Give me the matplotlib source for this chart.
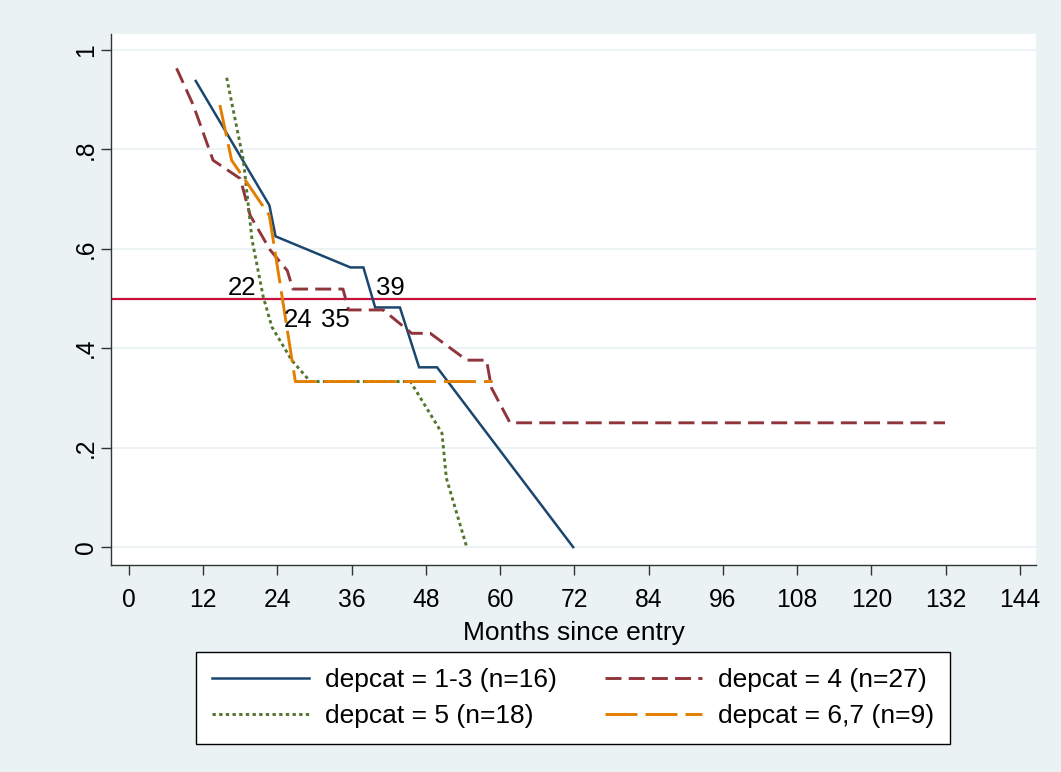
import matplotlib
matplotlib.use("Agg")
import matplotlib.pyplot as plt
from matplotlib.lines import Line2D

plt.rcParams['font.family'] = ['Liberation Sans', 'DejaVu Sans']
plt.rcParams['lines.scale_dashes'] = False

# Survivor estimates by deprivation category (months, proportion surviving)
t_13 = [10.8, 22.7, 23.7, 35.8, 37.9, 39.8, 43.8, 46.9, 49.8, 71.8]
s_13 = [0.9375, 0.6875, 0.625, 0.5625, 0.5625, 0.482, 0.482, 0.3616, 0.3616, 0.0]

t_4 = [7.7, 10.4, 13.6, 18.0, 19.6, 22.8, 25.6, 26.5, 34.6, 35.5, 41.1,
       45.7, 48.7, 54.6, 57.8, 58.6, 61.6, 131.9]
s_4 = [0.963, 0.889, 0.778, 0.741, 0.667, 0.598, 0.556, 0.519, 0.519, 0.477, 0.477,
       0.43, 0.43, 0.376, 0.376, 0.32, 0.25, 0.25]

t_5 = [15.8, 18.5, 19.9, 21.7, 23.1, 26.3, 29.3, 45.5, 50.6, 51.3, 54.6]
s_5 = [0.944, 0.778, 0.618, 0.504, 0.443, 0.376, 0.333, 0.333, 0.229, 0.139, 0.0]

t_67 = [14.7, 16.6, 22.7, 26.9, 58.8]
s_67 = [0.889, 0.778, 0.667, 0.333, 0.333]

series_labels = ["depcat = 1-3 (n=16)", "depcat = 4 (n=27)",
                 "depcat = 5 (n=18)", "depcat = 6,7 (n=9)"]

# Median survival times and where they are written
median_text = ["22", "24", "35", "39"]
median_x = [18.2, 27.3, 33.3, 42.2]
median_y = [0.522, 0.457, 0.457, 0.522]

x_ticks = list(range(0, 145, 12))
y_ticks = [0, 0.2, 0.4, 0.6, 0.8, 1.0]
y_tick_labels = ["0", ".2", ".4", ".6", ".8", "1"]

BG = "#EAF2F3"
NAVY = "#1A476F"
MAROON = "#90353B"
FOREST = "#55752F"
DKORANGE = "#E37E00"
REFLINE = "#C8103E"

fig = plt.figure(figsize=(10.61, 7.72), dpi=100, facecolor=BG)
ax = fig.add_axes([0.1046, 0.2681, 0.8718, 0.6879])
ax.set_facecolor("white")

ax.set_xlim(-2.9, 146.6)
ax.set_ylim(-0.036, 1.032)

ax.yaxis.grid(True, color=BG, linewidth=1.3, zorder=0)
ax.set_axisbelow(True)

ax.axhline(0.5, color=REFLINE, linewidth=1.6, zorder=2)

lw = 2.1
ax.plot(t_13, s_13, color=NAVY, lw=1.8, linestyle="-", zorder=3,
        solid_joinstyle="miter")
ax.plot(t_4, s_4, color=MAROON, lw=lw, linestyle=(0, (11.5, 5.2)), zorder=4)
ax.plot(t_5, s_5, color=FOREST, lw=lw, linestyle=(0, (2.4, 2.4)), zorder=5)
ax.plot(t_67, s_67, color=DKORANGE, lw=lw, linestyle=(0, (23, 5.8)), zorder=6)

for txt, x, y in zip(median_text, median_x, median_y):
    ax.text(x, y, txt, fontsize=18.5, ha="center", va="center", zorder=7)

for side in ("top", "right"):
    ax.spines[side].set_visible(False)
for side in ("left", "bottom"):
    ax.spines[side].set_color("#333333")
    ax.spines[side].set_linewidth(1.0)

ax.set_xticks(x_ticks)
ax.set_xticklabels([str(v) for v in x_ticks])
ax.set_yticks(y_ticks)
ax.set_yticklabels(y_tick_labels, rotation=90, va="center")
ax.tick_params(axis="both", direction="out", length=7.2, width=1.0,
               color="#333333", labelsize=17.7)
ax.tick_params(axis="x", pad=9)
ax.tick_params(axis="y", pad=2)

ax.set_xlabel("Months since entry", fontsize=19, labelpad=7)

handles = [
    Line2D([], [], color=NAVY, lw=1.8, linestyle="-"),
    Line2D([], [], color=FOREST, lw=lw, linestyle=(0, (2.4, 2.4))),
    Line2D([], [], color=MAROON, lw=lw, linestyle=(0, (11.5, 5.2))),
    Line2D([], [], color=DKORANGE, lw=lw, linestyle=(0, (23, 5.8))),
]
labels = [series_labels[0], series_labels[2], series_labels[1], series_labels[3]]
leg = fig.legend(handles, labels, ncol=2, loc="center",
                 bbox_to_anchor=(0.540, 0.0959), bbox_transform=fig.transFigure,
                 fontsize=19, frameon=True, fancybox=False, framealpha=1,
                 edgecolor="black", handlelength=3.7, handletextpad=0.6,
                 columnspacing=1.8, borderpad=0.6, labelspacing=0.45)
leg.get_frame().set_linewidth(1.0)
leg.get_frame().set_facecolor("white")

fig.savefig("out.png", dpi=100, facecolor=BG)
